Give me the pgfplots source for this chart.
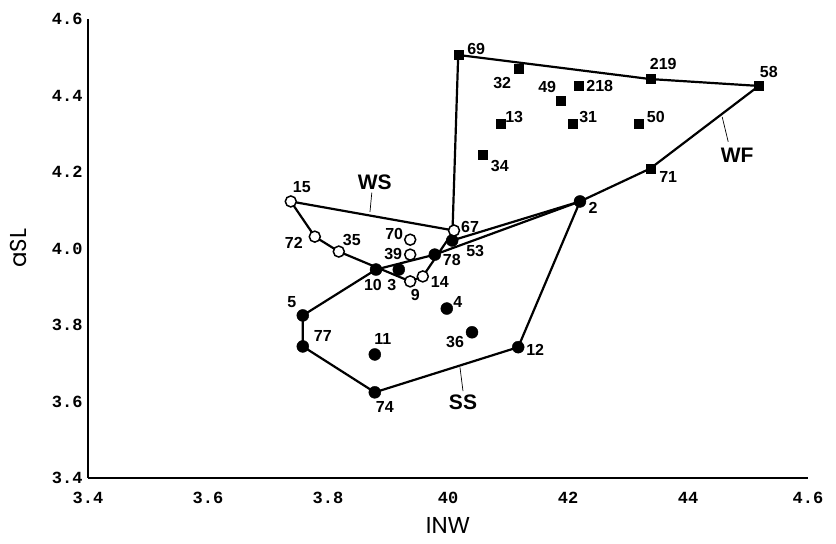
\documentclass[border=0pt]{standalone}
\usepackage{pgfplots}
\pgfplotsset{compat=1.18}
\usepackage{fontspec}
\setmainfont{Liberation Sans}
\newfontfamily\tickfont{Liberation Mono}[BoldFont={Liberation Mono Bold}]
\newfontfamily\labfont{Poppins}
\newcommand\lbl{\bfseries\fontsize{16bp}{16bp}\selectfont}
\newcommand\lab[5]{\node[font=\lbl,inner sep=0pt] at ([xshift=#3bp,yshift=#4bp]axis cs:#1,#2) {#5};}
\begin{document}
\begin{tikzpicture}
\useasboundingbox (-88bp,-66bp) rectangle (748bp,478bp);
\begin{axis}[
 scale only axis, width=720bp, height=459bp,
 xmin=3.4, xmax=4.6, ymin=3.4, ymax=4.6,
 axis lines=left, axis line style={line width=1.3bp,-},
 xtick={3.4,3.6,3.8,4.0,4.2,4.4,4.6},
 xticklabels={3.4,3.6,3.8,40,42,44,4.6},
 ytick={3.4,3.6,3.8,4.0,4.2,4.4,4.6},
 yticklabels={3.4,3.6,3.8,4.0,4.2,4.4,4.6},
 major tick length=0pt,
 tick label style={font=\tickfont\bfseries\fontsize{17bp}{17bp}\selectfont},
 xticklabel style={yshift=-11bp},
 yticklabel style={xshift=-2bp},
 xlabel={INW}, ylabel={aSL},
 label style={font=\labfont\fontsize{23bp}{23bp}\selectfont, inner sep=0pt},
 x label style={at={([yshift=-47bp]axis description cs:0.5,0)}, anchor=center},
 y label style={at={([xshift=-70bp]axis description cs:0,0.5)}, anchor=center},
 clip=false,
]
% WF hull
\addplot[black, line width=2.2bp] coordinates {
(4.017,4.506) (4.337,4.443) (4.518,4.425) (4.337,4.209) (4.22,4.123) (4.007,4.021) (4.017,4.506)};
% SS hull
\addplot[black, line width=2.2bp] coordinates {
(3.758,3.825) (3.88,3.945) (3.978,3.984) (4.22,4.123) (4.117,3.742) (3.878,3.624) (3.758,3.744) (3.758,3.825)};
% WS hull
\addplot[black, line width=2.2bp] coordinates {
(3.738,4.123) (4.01,4.047) (3.958,3.927) (3.937,3.914) (3.818,3.992) (3.778,4.031) (3.738,4.123)};
% WF squares
\addplot[only marks, mark=square*, mark size=4.5bp, black] coordinates {
(4.017,4.506) (4.117,4.470) (4.337,4.443) (4.518,4.425) (4.218,4.425) (4.187,4.386)
(4.087,4.326) (4.207,4.326) (4.318,4.326) (4.058,4.245) (4.337,4.209)};
% SS filled circles
\addplot[only marks, mark=*, mark size=6bp, black] coordinates {
(4.22,4.123) (4.007,4.021) (3.978,3.984) (3.88,3.945) (3.918,3.945) (3.758,3.825)
(3.998,3.843) (4.04,3.781) (3.758,3.744) (3.878,3.723) (4.117,3.742) (3.878,3.624)};
% WS open circles
\addplot[only marks, mark=*, mark size=5.5bp, mark options={draw=black, fill=white, line width=1.5bp}] coordinates {
(3.738,4.123) (4.01,4.047) (3.778,4.031) (3.818,3.992) (3.937,4.023) (3.937,3.984)
(3.937,3.914) (3.958,3.927)};
% point labels
\lab{4.017}{4.506}{18}{6}{69}
\lab{4.117}{4.470}{-16}{-14}{32}
\lab{4.337}{4.443}{13}{15}{219}
\lab{4.518}{4.425}{10}{14}{58}
\lab{4.218}{4.425}{21}{0}{218}
\lab{4.187}{4.386}{-13}{14}{49}
\lab{4.087}{4.326}{14}{7}{13}
\lab{4.207}{4.326}{16}{7}{31}
\lab{4.318}{4.326}{17}{7}{50}
\lab{4.058}{4.245}{17}{-11}{34}
\lab{4.337}{4.209}{18}{-8}{71}
\lab{4.22}{4.123}{13}{-6}{2}
\lab{3.738}{4.123}{11}{14}{15}
\lab{4.01}{4.047}{16}{4}{67}
\lab{3.778}{4.031}{-21}{-6}{72}
\lab{3.818}{3.992}{13}{12}{35}
\lab{3.937}{4.023}{-16}{6}{70}
\lab{3.937}{3.984}{-17}{1}{39}
\lab{4.007}{4.021}{23}{-11}{53}
\lab{3.978}{3.984}{17}{-5}{78}
\lab{3.88}{3.945}{-3}{-15}{10}
\lab{3.918}{3.945}{-7}{-15}{3}
\lab{3.937}{3.914}{5}{-14}{9}
\lab{3.958}{3.927}{17}{-6}{14}
\lab{3.758}{3.825}{-11}{13}{5}
\lab{3.998}{3.843}{11}{7}{4}
\lab{4.04}{3.781}{-17}{-10}{36}
\lab{3.758}{3.744}{20}{10}{77}
\lab{3.878}{3.723}{8}{15}{11}
\lab{4.117}{3.742}{17}{-3}{12}
\lab{3.878}{3.624}{10}{-15}{74}
% group labels
\node[font=\bfseries\fontsize{21bp}{21bp}\selectfont] at (axis cs:3.878,4.172) {WS};
\draw[line width=0.7bp] (axis cs:3.873,4.146) -- (axis cs:3.870,4.096);
\node[font=\bfseries\fontsize{21bp}{21bp}\selectfont] at (axis cs:4.482,4.245) {WF};
\draw[line width=0.7bp] (axis cs:4.467,4.279) -- (axis cs:4.457,4.344);
\node[font=\bfseries\fontsize{21bp}{21bp}\selectfont] at (axis cs:4.025,3.598) {SS};
\draw[line width=0.7bp] (axis cs:4.025,3.627) -- (axis cs:4.020,3.689);
\end{axis}
\end{tikzpicture}
\end{document}
